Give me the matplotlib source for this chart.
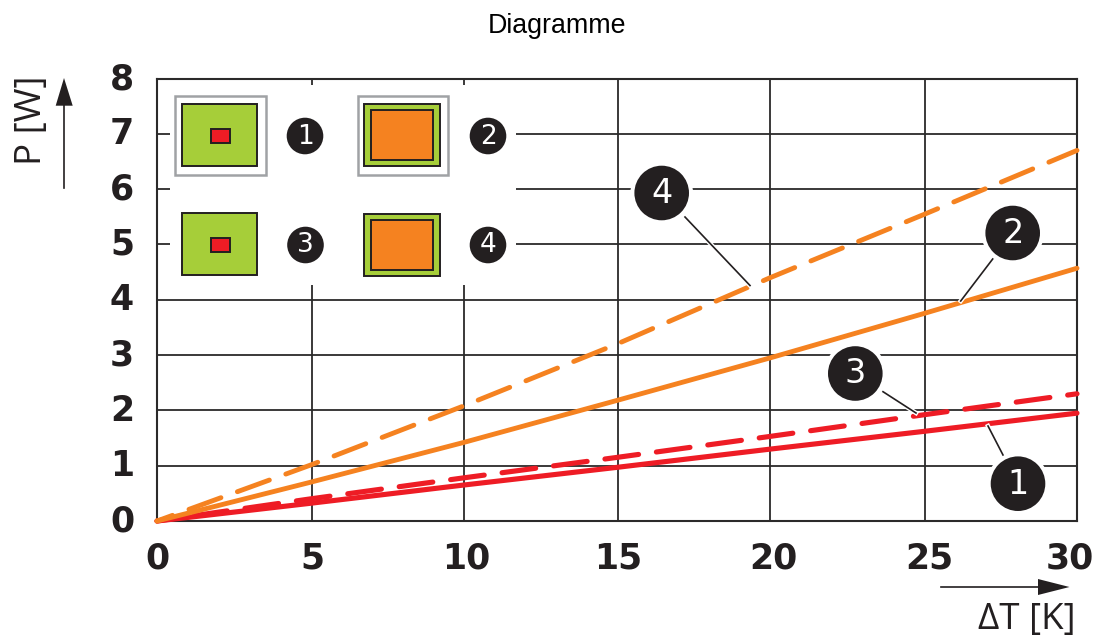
import matplotlib
matplotlib.use('Agg')
import matplotlib.pyplot as plt
import matplotlib.patheffects as pe
from matplotlib.patches import Rectangle, Circle, Polygon
from matplotlib.transforms import Affine2D, ScaledTranslation

W, H = 1096, 638
dt = [0, 5, 10, 15, 20, 25, 30]
p1 = [0, 0.32, 0.65, 0.97, 1.30, 1.62, 1.95]
p2 = [0, 0.70, 1.42, 2.18, 2.95, 3.75, 4.57]
p3 = [0, 0.40, 0.78, 1.15, 1.53, 1.92, 2.30]
p4 = [0, 1.01, 2.08, 3.20, 4.40, 5.54, 6.70]
x_grid = [0, 5.054, 10.01, 15.03, 19.99, 25.04, 30]
x_labels = ['0', '5', '10', '15', '20', '25', '30']
x_label_shift = [0, 0, 2, 0, 3, 4, -7]
y_ticks = [0, 1, 2, 3, 4, 5, 6, 7, 8]
RED = '#ee1c25'; ORANGE = '#f58220'; GREEN = '#a6ce39'; INK = '#231f20'; GREY = '#a0a2a5'

fig = plt.figure(figsize=(W/100, H/100), dpi=100, facecolor='white')
ax = fig.add_axes([157/W, 1-521/H, 920/W, 442.5/H])
ax.set_xlim(0, 30); ax.set_ylim(0, 8)
ax.set_xticks(x_grid, x_labels); ax.set_yticks(y_ticks)
ax.grid(True, color='#2b2a2a', lw=1.3, zorder=1)
ax.set_axisbelow(True)
for s in ax.spines.values():
    s.set_color('#2b2a2a'); s.set_linewidth(1.5); s.set_zorder(1.5)
ax.tick_params(length=0)
ax.tick_params(axis='x', pad=14.5)
ax.tick_params(axis='y', pad=16.5)
for t in ax.get_xticklabels() + ax.get_yticklabels():
    t.set_fontfamily('DejaVu Sans'); t.set_fontweight('bold'); t.set_fontsize(25); t.set_color(INK)
for t, dx in zip(ax.get_xticklabels(), x_label_shift):
    t.set_transform(t.get_transform() + ScaledTranslation(dx/100, 0, fig.dpi_scale_trans))
for t in ax.get_yticklabels():
    t.set_transform(t.get_transform() + ScaledTranslation(0, 3/100, fig.dpi_scale_trans))

ax.plot(dt, p1, color=RED, lw=3.7, zorder=3, solid_capstyle='round', clip_on=False)
ax.plot(dt, p2, color=ORANGE, lw=3.5, zorder=3.1, solid_capstyle='round', clip_on=False)
ax.plot(dt, p3, color=RED, lw=3.7, zorder=3, ls=(2.9, (6.6, 3.5)), dash_capstyle='round', clip_on=False)
ax.plot(dt, p4, color=ORANGE, lw=3.5, zorder=3.1, ls=(3.6, (7.0, 3.6)), dash_capstyle='round', clip_on=False)

# pixel overlay (top-left origin)
px = Affine2D().scale(1, -1).translate(0, H)
def rect(x0, y0, x1, y1, fc, ec=INK, lw=1.4, z=5):
    fig.add_artist(Rectangle((x0, y0), x1-x0, y1-y0, transform=px, fc=fc, ec=ec, lw=lw, zorder=z))
def badge(cx, cy, r, label, fs, halo=4):
    fig.add_artist(Circle((cx, cy), r+halo, transform=px, fc='white', ec='none', zorder=6))
    fig.add_artist(Circle((cx, cy), r, transform=px, fc=INK, ec='none', zorder=7))
    fig.text(cx/W, 1-(cy+0.5)/H, label, color='white', fontsize=fs, family='DejaVu Sans',
             ha='center', va='center', zorder=8)
def leader(x0, y0, x1, y1, halo=True):
    l = plt.Line2D([x0, x1], [y0, y1], transform=px, color=INK, lw=1.2, zorder=5)
    if halo:
        l.set_path_effects([pe.withStroke(linewidth=3.2, foreground='white')])
    fig.add_artist(l)

rect(170, 85, 516, 285, 'white', ec='none', lw=0, z=4)
rect(175, 96, 265.5, 175, 'white', ec=GREY, lw=1.8)
rect(357.5, 96, 447.5, 175, 'white', ec=GREY, lw=1.8)
rect(181.5, 104, 257, 165.5, GREEN, z=5.1)
rect(364, 104, 439.5, 165.5, GREEN, z=5.1)
rect(181.5, 213, 257, 275, GREEN, z=5.1)
rect(364, 214, 439.5, 276, GREEN, z=5.1)
rect(210.5, 128.5, 229.5, 143, RED, z=5.2)
rect(210.5, 237.5, 229.5, 252, RED, z=5.2)
rect(370.5, 110, 433, 160, ORANGE, z=5.2)
rect(370.5, 220, 433, 270, ORANGE, z=5.2)
badge(305, 136, 18.3, '1', 19, halo=0)
badge(488, 136, 18.3, '2', 19, halo=0)
badge(305.5, 245, 18.3, '3', 19, halo=0)
badge(488, 245, 18.3, '4', 19, halo=0)

badge(661.7, 193, 27.3, '4', 24)
badge(1012.7, 233, 27.3, '2', 24)
badge(855.3, 373.5, 27.3, '3', 24)
badge(1018, 483.7, 27.3, '1', 24)
leader(685, 217, 750, 285.5)
leader(992.7, 259, 960.7, 301)
leader(883, 391.7, 916, 413)
leader(1003, 455, 988, 426)

# axis arrows
leader(64, 188, 64, 100, halo=False)
leader(940.7, 587, 1040, 587, halo=False)
fig.add_artist(Polygon([(55.7, 105.7), (72.7, 105.7), (64, 78)], transform=px, fc=INK, ec='none', zorder=5))
fig.add_artist(Polygon([(1038, 579), (1038, 595), (1069.5, 587)], transform=px, fc=INK, ec='none', zorder=5))

fig.text(556.5/W, 1-26/H, 'Diagramme', ha='center', va='center', fontsize=19.3,
         family='Liberation Sans', color='black')
fig.text(32/W, 1-120.5/H, 'P [W]', rotation=90, ha='center', va='center', fontsize=26.5,
         family='Open Sans', color=INK)
fig.text(1027/W, 1-620/H, '\u0394T [K]', ha='center', va='center', fontsize=26.5,
         family='Open Sans', color=INK)
fig.savefig('out.png', dpi=100)
